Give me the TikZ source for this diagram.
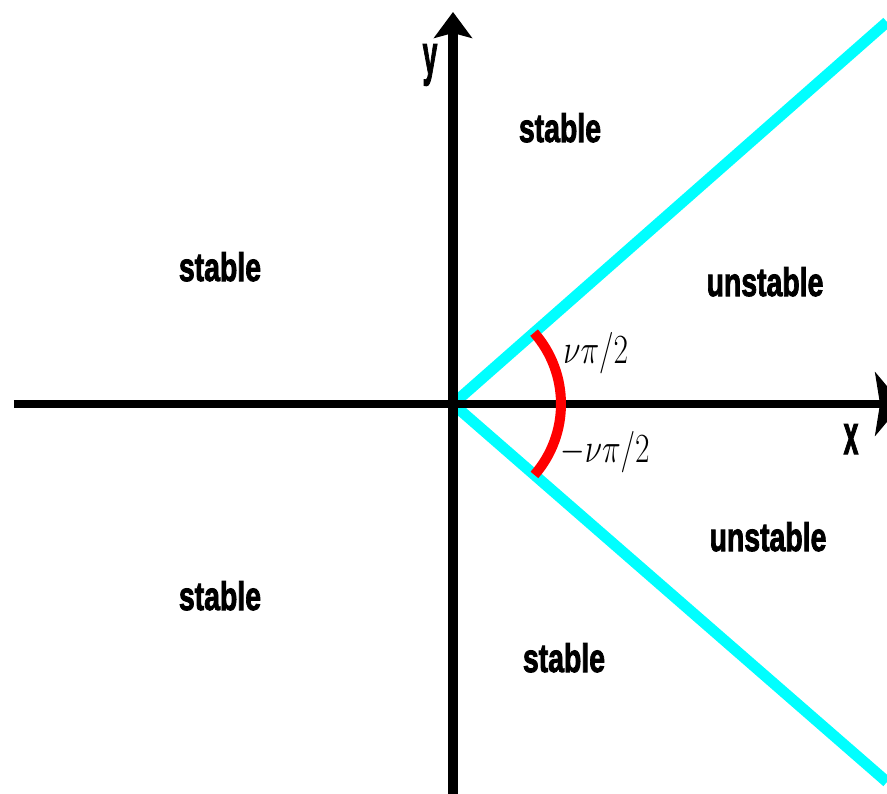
\documentclass[tikz,border=0pt]{standalone}
\usepackage{fontspec}
\setmainfont{Liberation Sans}
\newfontfamily\regionfont{Liberation Sans Bold}[FakeBold=2.5]
\usepackage{amsmath}
\usetikzlibrary{arrows.meta}

\definecolor{aqua}{RGB}{0,255,255}

\tikzset{
  region/.style={font=\regionfont\fontsize{20}{22}\selectfont, xscale=0.71, anchor=base},
  axislabel/.style={font=\regionfont\fontsize{28}{30}\selectfont, xscale=0.47, anchor=base},
  anglelabel/.style={font=\fontsize{20}{22}\selectfont, xscale=0.76, inner sep=0pt, anchor=base west}
}

\begin{document}
\begin{tikzpicture}[x=0.5pt,y=0.5pt]
  \useasboundingbox (-453,-389) rectangle (434,404);
  \coordinate (O) at (0,0);
  \coordinate (upper) at (434,382);
  \coordinate (lower) at (434,-378);
  % cyan boundary lines
  \draw[aqua, line width=5.5pt] (O) -- (upper);
  \draw[aqua, line width=5.5pt] (O) -- (lower);
  % axes
  \draw[line width=4pt, -{Stealth[length=13.5pt,width=32pt,inset=2.5pt]}] (-439,0) -- (449,0);
  \draw[line width=5pt, -{Stealth[length=13pt,width=19pt,inset=2.5pt]}] (0,-392) -- (0,392);
  % angle
  \draw[red, line width=5pt] (-41.05:108) arc[start angle=-41.05, end angle=41.35, radius=108];
  \node[anglelabel] (nu) at (110,41) {$\nu\pi/2$};
  \node[anglelabel] (minusnu) at (107,-58) {$-\nu\pi/2$};
  % axis names
  \node[axislabel] (ylab) at (-23,330) {y};
  \node[axislabel] (xlab) at (398,-50) {x};
  % regions
  \node[region] (s1) at (107,262) {stable};
  \node[region] (s2) at (-233,123) {stable};
  \node[region] (u1) at (312,108) {unstable};
  \node[region] (s3) at (-233,-206) {stable};
  \node[region] (s4) at (111,-268) {stable};
  \node[region] (u2) at (315,-147) {unstable};
\end{tikzpicture}
\end{document}
